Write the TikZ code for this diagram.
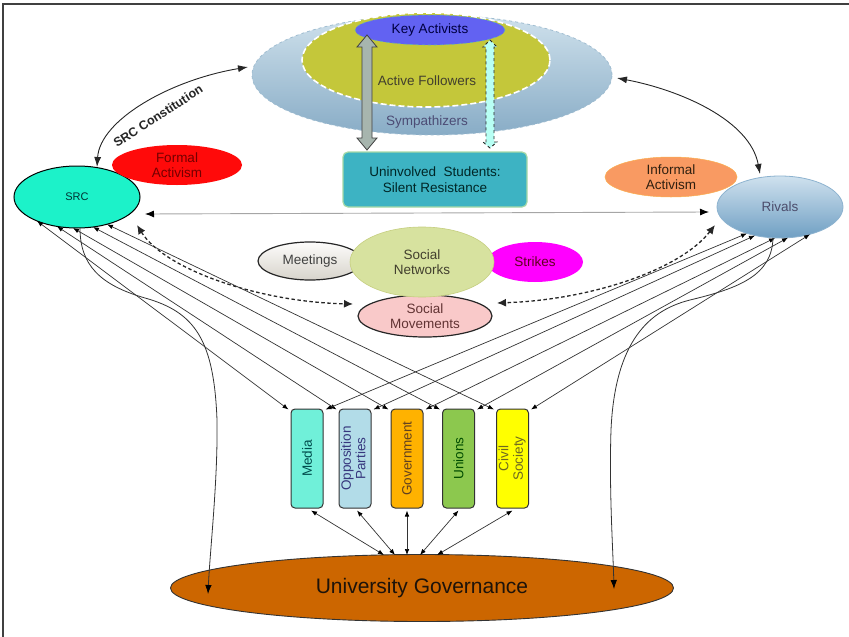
\documentclass[tikz,border=0pt]{standalone}
\usepackage{fontspec}
\setmainfont{Liberation Sans}
\usetikzlibrary{shapes.geometric,arrows.meta,calc}
\definecolor{sympTop}{HTML}{CFE1EC}
\definecolor{sympBot}{HTML}{88ACC6}
\definecolor{activeF}{HTML}{C4C73A}
\definecolor{keyA}{HTML}{6262F2}
\definecolor{uninv}{HTML}{3DB3C3}
\definecolor{srcC}{HTML}{1CF2C9}
\definecolor{formalC}{HTML}{FF0A0A}
\definecolor{informalC}{HTML}{F99A62}
\definecolor{rivTop}{HTML}{CFE1EE}
\definecolor{rivBot}{HTML}{6F9FC3}
\definecolor{meetC}{HTML}{E6E2D8}
\definecolor{netC}{HTML}{D7E29F}
\definecolor{strikeC}{HTML}{FF00FF}
\definecolor{movC}{HTML}{F9C9C9}
\definecolor{mediaC}{HTML}{70F0D9}
\definecolor{oppC}{HTML}{B2DCE8}
\definecolor{govtC}{HTML}{FFB200}
\definecolor{unionC}{HTML}{8CC84E}
\definecolor{civilC}{HTML}{FFFF00}
\definecolor{ugC}{HTML}{CC6600}
\definecolor{lineC}{HTML}{333333}
\definecolor{grayArrow}{HTML}{A7B5AE}
\definecolor{cyanArrow}{HTML}{B8FFF4}
\begin{document}
\begin{tikzpicture}[x=1pt,y=-1pt,
  txt/.style={font=\fontsize{13.5}{15.5}\selectfont},
  ell/.style={ellipse, inner sep=0pt, align=center, txt},
  vbox/.style={draw=lineC, line width=1pt, rounded corners=4pt, minimum width=32pt, minimum height=99pt, inner sep=0pt, font=\fontsize{13.5}{16}\selectfont},
  thin2/.style={draw=lineC, line width=0.7pt, {Latex[length=6pt,width=4.6pt,black]}-{Latex[length=6pt,width=4.6pt,black]}},
  single2/.style={draw=lineC, line width=0.8pt, -{Latex[length=9pt,width=6.5pt,black]}},
  bigarc/.style={draw=black!85, line width=0.9pt, {Latex[length=10pt,width=7pt]}-{Latex[length=10pt,width=7pt]}},
  dasharc/.style={draw=black!85, line width=1.3pt, dash pattern=on 3.5pt off 2.5pt, {Latex[length=9pt,width=8pt]}-{Latex[length=9pt,width=8pt]}},
]
\useasboundingbox (0,0) rectangle (849,637);
% frame
\draw[black!75, line width=1.3pt] (3,637) -- (3,4) -- (849,4);

% ===== top nested ellipses =====
\node[ell, minimum width=360pt, minimum height=120pt, top color=sympTop, bottom color=sympBot,
      draw=sympBot!80!white, dashed, line width=0.8pt] (symp) at (432,75) {};
\node[ell, minimum width=248pt, minimum height=94pt, fill=activeF, draw=white, dash pattern=on 6pt off 3pt, line width=1.6pt] (actf) at (426,60) {};
\node[ell, minimum width=150pt, minimum height=30pt, fill=keyA, draw=teal!60, dashed, line width=0.6pt, text=black!75!blue] (key) at (430,30) {Key Activists};
\node[txt, text=black!70!olive] (actlbl) at (427,81) {Active Followers};
\node[txt, text=black!60!blue!40!gray] (symplbl) at (427,122) {Sympathizers};

% uninvolved box
\node[draw=green!40!gray!50, line width=1.2pt, fill=uninv, rounded corners=5pt, minimum width=184pt, minimum height=55pt, align=center, txt, text=black!70!teal] (uninv) at (435,179.5) {Uninvolved\ \ Students:\\Silent Resistance};

% block arrows
\fill[fill=grayArrow, draw=black!75, line width=0.8pt]
  (367,35) -- (377,47) -- (372,47) -- (372,138) -- (377,138) -- (367,150) -- (357,138) -- (362,138) -- (362,47) -- (357,47) -- cycle;
\fill[fill=cyanArrow, draw=black!85, dashed, line width=0.9pt]
  (490,40) -- (497,47) -- (494,47) -- (494,142) -- (497,142) -- (490,148) -- (483,142) -- (486,142) -- (486,47) -- (483,47) -- cycle;

% ===== side nodes =====
\node[ell, minimum width=126pt, minimum height=62pt, fill=srcC, draw=black, line width=1pt, font=\fontsize{11}{13}\selectfont, text=black!60!teal] (src) at (77,197) {SRC};
\node[ell, minimum width=130pt, minimum height=40pt, fill=formalC, text=red!45!black] (formal) at (177,165) {Formal\\Activism};
\node[ell, minimum width=132pt, minimum height=40pt, fill=informalC, draw=informalC!80!yellow, line width=0.5pt, text=black!75!brown] (informal) at (671,177) {Informal\\Activism};
\node[ell, minimum width=126pt, minimum height=62pt, top color=rivTop, bottom color=rivBot, draw=rivBot!80!white, line width=0.8pt, text=black!70!blue!40!gray] (riv) at (780,207) {Rivals};

% ===== middle cluster =====
\node[ell, minimum width=104pt, minimum height=38pt, top color=white!90!meetC, bottom color=meetC!85!gray, draw=black!85, line width=1.2pt, text=black!75] (meet) at (310,261) {Meetings};
\node[ell, minimum width=96pt, minimum height=40pt, fill=strikeC, text=black!50!purple] (strike) at (535,262) {Strikes};
\node[ell, minimum width=134pt, minimum height=42pt, fill=movC, draw=black!85, line width=1.2pt, text=black!70!red!60!gray] (smov) at (425,316) {Social\\Movements};
\node[ell, minimum width=144pt, minimum height=70pt, fill=netC, draw=netC!80!olive, line width=0.6pt, text=black!70!olive] (snet) at (422,262) {Social\\Networks};

% ===== boxes =====
\node[vbox, fill=mediaC, text=teal!60!black] (media) at (307,458.5) {\rotatebox{90}{Media}};
\node[vbox, fill=oppC, text=gray!60!blue!70!black] (opp) at (355,458.5) {\rotatebox{90}{\begin{tabular}{@{}c@{}}Opposition\\[-1.5pt]Parties\end{tabular}}};
\node[vbox, fill=govtC, text=brown!50!black] (govt) at (407,458.5) {\rotatebox{90}{Government}};
\node[vbox, fill=unionC, text=green!30!black] (union) at (458.5,458.5) {\rotatebox{90}{Unions}};
\node[vbox, fill=civilC, text=olive!70!black] (civil) at (512.5,458.5) {\rotatebox{90}{\begin{tabular}{@{}c@{}}Civil\\[-1.5pt]Society\end{tabular}}};

% ===== governance =====
\node[ell, minimum width=503pt, minimum height=67pt, fill=ugC, draw=black!80, line width=0.9pt, font=\fontsize{21}{24}\selectfont, text=black!85!brown] (ug) at (422,588) {University Governance};

% ===== connectors =====
% top arcs
\draw[bigarc] ($(src)+(20,-30)$) .. controls (100,120) and (170,80) .. ($(symp)+(-184,-8)$);
\node[rotate=33, font=\bfseries\fontsize{12.5}{14}\selectfont, text=black!85, inner sep=0pt] (srcclbl) at (158,116) {SRC Constitution};
\draw[bigarc] ($(symp)+(185,3)$) .. controls (680,90) and (750,120) .. ($(riv)+(-20,-33)$);

% horizontal
\draw[draw=gray!70, line width=0.9pt, {Latex[length=9pt,width=7pt,black]}-{Latex[length=9pt,width=7pt,black]}] ($(src)+(68,17)$) -- ($(riv)+(-71,5)$);

% dashed arcs
\draw[dasharc] ($(src)+(60,28)$) .. controls (165,270) and (260,302) .. ($(smov)+(-72,-12)$);
\draw[dasharc] ($(riv)+(-65,18)$) .. controls (680,270) and (590,300) .. ($(smov)+(72,-13)$);

% SRC to boxes
\draw[thin2] ($(src)+(-40,24)$) -- ($(media.north west)+(-2,1)$);
\draw[thin2] ($(src)+(-20,29.4)$) -- ($(opp.north west)+(-2,1)$);
\draw[thin2] ($(src)+(-4,31)$) -- ($(govt.north west)+(-2,1)$);
\draw[thin2] ($(src)+(16,30)$) -- ($(union.north west)+(-2,1)$);
\draw[thin2] ($(src)+(30,27.3)$) -- ($(civil.north west)+(-2,1)$);

% Rivals to boxes
\draw[thin2] ($(riv)+(-33,26.4)$) -- ($(media.north east)+(2,1)$);
\draw[thin2] ($(riv)+(-25,28.5)$) -- ($(opp.north east)+(2,1)$);
\draw[thin2] ($(riv)+(-5,31)$) -- ($(govt.north east)+(2,1)$);
\draw[thin2] ($(riv)+(8,30.7)$) -- ($(union.north east)+(2,1)$);
\draw[thin2] ($(riv)+(30,27.3)$) -- ($(civil.north east)+(2,1)$);

% boxes to governance
\draw[thin2] ($(media.south)+(4,2)$) -- ($(ug)+(-38,-33)$);
\draw[thin2] ($(opp.south)+(2,2)$) -- ($(ug)+(-27,-33)$);
\draw[thin2] ($(govt.south)+(0,2)$) -- ($(ug)+(-15,-33)$);
\draw[thin2] ($(union.south)+(0,2)$) -- ($(ug)+(-2,-33)$);
\draw[thin2] ($(civil.south)+(0,2)$) -- ($(ug)+(15,-33)$);

% long curves
\draw[single2] ($(src)+(3,31)$) .. controls (80,265) and (100,285) .. (145,298)
  .. controls (195,312) and (214,340) .. (217,420)
  .. controls (218,480) and (210,550) .. ($(ug)+(-214,6)$);
\draw[single2] ($(riv)+(-7,31)$) .. controls (772,275) and (740,288) .. (690,300)
  .. controls (650,310) and (615,340) .. (611,430)
  .. controls (609,490) and (613,550) .. ($(ug)+(192,1)$);
\end{tikzpicture}
\end{document}
